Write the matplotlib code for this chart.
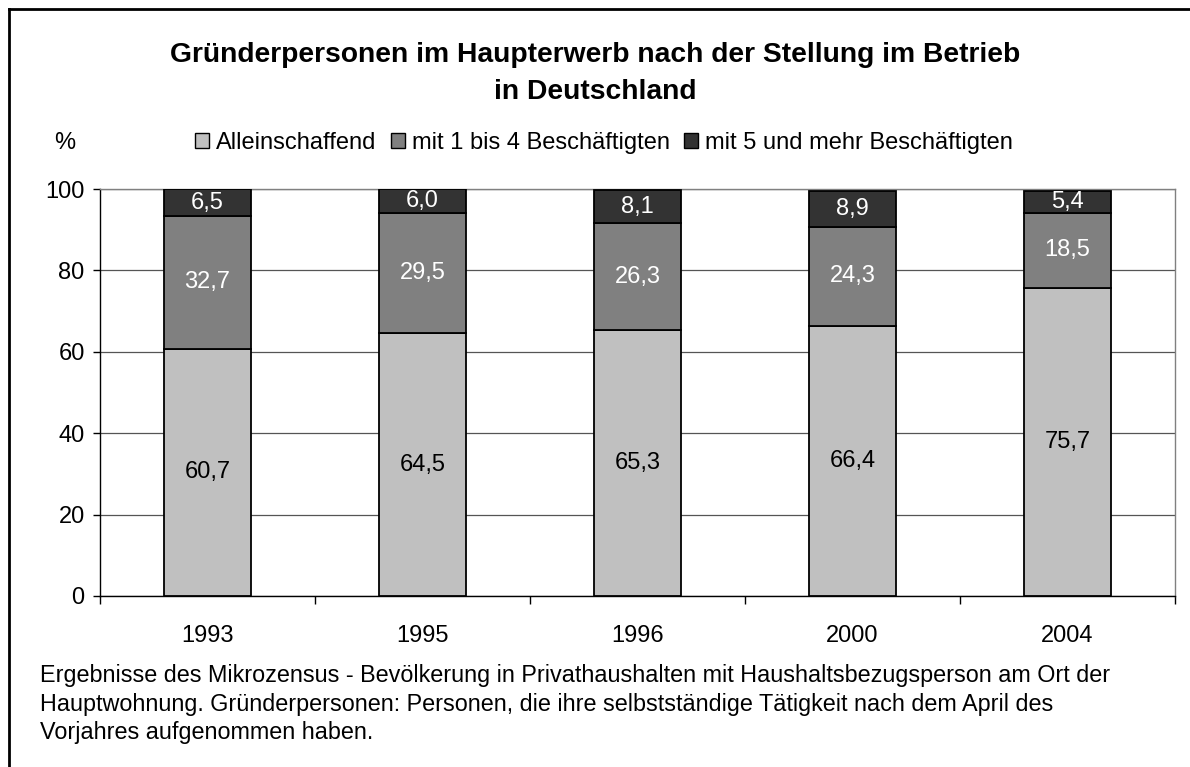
import matplotlib
matplotlib.use("Agg")
import matplotlib.pyplot as plt
from matplotlib.patches import Patch
from matplotlib.lines import Line2D
import numpy as np

years = ["1993", "1995", "1996", "2000", "2004"]
allein = [60.7, 64.5, 65.3, 66.4, 75.7]
mit1_4 = [32.7, 29.5, 26.3, 24.3, 18.5]
mit5 = [6.5, 6.0, 8.1, 8.9, 5.4]
series_names = ["Alleinschaffend", "mit 1 bis 4 Beschäftigten", "mit 5 und mehr Beschäftigten"]
colors = ["#C0C0C0", "#808080", "#333333"]
label_colors = ["black", "white", "white"]
yticks = [0, 20, 40, 60, 80, 100]

title_lines = ["Gründerpersonen im Haupterwerb nach der Stellung im Betrieb", "in Deutschland"]
footnote = ("Ergebnisse des Mikrozensus - Bevölkerung in Privathaushalten mit Haushaltsbezugsperson am Ort der\n"
            "Hauptwohnung. Gründerpersonen: Personen, die ihre selbstständige Tätigkeit nach dem April des\n"
            "Vorjahres aufgenommen haben.")

plt.rcParams['font.family'] = ['Liberation Sans', 'DejaVu Sans']

W, H = 1190, 767
fig = plt.figure(figsize=(W / 100, H / 100), dpi=100)
ax = fig.add_axes([100 / W, 1 - 596 / H, (1175 - 100) / W, (596 - 189) / H])

FS = 17
x = np.arange(len(years))
bw = 0.405
bottom = np.zeros(len(years))
for vals, col, lc in zip([allein, mit1_4, mit5], colors, label_colors):
    vals = np.array(vals)
    ax.bar(x, vals, bw, bottom=bottom, color=col, edgecolor="black", linewidth=1.3, zorder=3)
    for xi, b, v in zip(x, bottom, vals):
        ax.text(xi, b + v / 2, f"{v:.1f}".replace(".", ","), ha="center", va="center",
                color=lc, fontsize=FS, zorder=4)
    bottom += vals

ax.set_xlim(-0.5, len(years) - 0.5)
ax.set_ylim(0, 100)
ax.set_yticks(yticks)
ax.set_yticklabels([str(t) for t in yticks], fontsize=FS)
ax.set_xticks(x)
ax.set_xticklabels(years, fontsize=FS)
ax.tick_params(axis="x", length=0, pad=21)
ax.tick_params(axis="y", length=5, width=1, pad=6, direction="out")
ax.set_xticks(np.arange(-0.5, len(years), 1.0), minor=True)
ax.tick_params(axis="x", which="minor", length=6, width=1, direction="out")
ax.yaxis.grid(True, color="#555555", linewidth=0.9, zorder=0)
ax.set_axisbelow(True)
for s in ["top", "right"]:
    ax.spines[s].set_color("#808080")
    ax.spines[s].set_linewidth(1)
for s in ["left", "bottom"]:
    ax.spines[s].set_color("black")
    ax.spines[s].set_linewidth(1)

for line, base in zip(title_lines, [62, 99]):
    fig.text(595 / W, 1 - base / H, line, ha="center", va="baseline", fontsize=20.3,
             fontweight="bold")
fig.text(65 / W, 1 - 143 / H, "%", ha="center", va="center", fontsize=FS)

handles = [Patch(facecolor=c, edgecolor="black", linewidth=1) for c in colors]
fig.legend(handles, series_names, loc="center", bbox_to_anchor=(604 / W, 1 - 143 / H),
           ncol=3, frameon=False, fontsize=FS, handlelength=0.6, handleheight=0.6,
           handletextpad=0.3, columnspacing=0.6, borderpad=0)

fig.text(40 / W, 1 - 704 / H, footnote, ha="left", va="center", fontsize=16.8, linespacing=1.3)

fig.add_artist(Line2D([9 / W, 9 / W], [0, 1 - 9 / H], color="black", linewidth=2))
fig.add_artist(Line2D([9 / W, 1], [1 - 9 / H, 1 - 9 / H], color="black", linewidth=2))

fig.savefig("out.png", dpi=100)
